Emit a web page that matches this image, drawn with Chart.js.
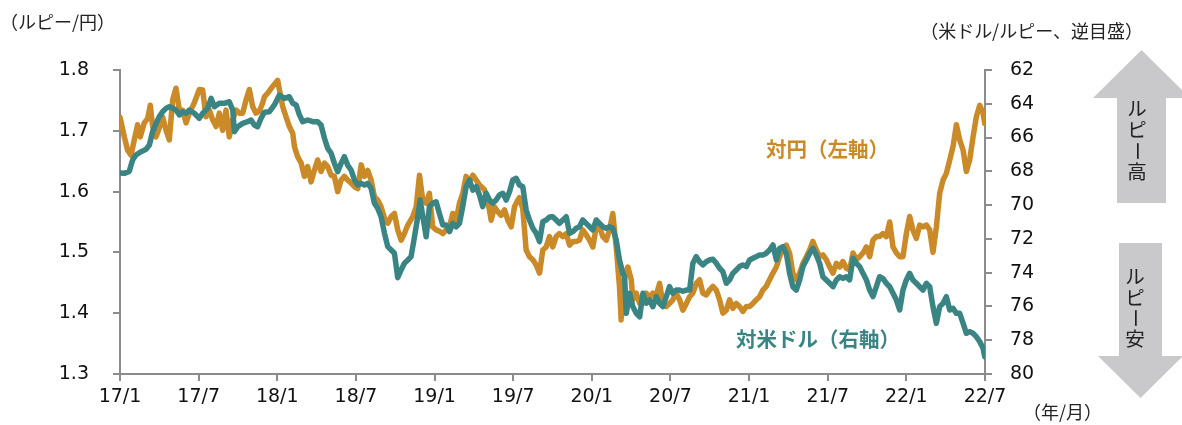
<!DOCTYPE html>
<html>
<head>
<meta charset="utf-8">
<script src="https://cdn.jsdelivr.net/npm/chart.js@4.4.1/dist/chart.umd.min.js"></script>
<style>
  html, body { margin: 0; padding: 0; background: #ffffff; }
  #wrap { width: 1182px; height: 425px; position: relative; }
</style>
</head>
<body>
<div id="wrap"><canvas id="c" width="1182" height="425"></canvas></div>
<script>
// ---- Data (months since 2017/1) ----
const tickLabels = ['17/1','17/7','18/1','18/7','19/1','19/7','20/1','20/7','21/1','21/7','22/1','22/7'];

const jpyMonths = [0,0.08,0.33,0.58,0.84,1.09,1.34,1.55,1.85,2.11,
2.31,2.49,2.75,3.0,3.25,3.51,3.76,4.02,4.27,4.53,
4.78,5.04,5.29,5.67,6.05,6.31,6.56,6.82,7.07,7.33,
7.58,7.83,8.09,8.34,8.6,8.85,9.11,9.36,9.62,9.87,
10.12,10.38,10.63,10.89,11.02,11.27,11.65,12.03,12.21,12.41,
12.67,12.92,13.18,13.31,13.56,13.82,14.07,14.32,14.58,14.83,
15.08,15.34,15.6,15.85,16.11,16.36,16.61,16.87,17.12,17.37,
17.63,17.89,18.14,18.4,18.65,18.9,19.16,19.41,19.66,19.92,
20.18,20.43,20.69,20.94,21.19,21.45,21.7,21.96,22.34,22.6,
22.85,23.1,23.36,23.61,23.86,24.12,24.37,24.63,24.89,25.14,
25.39,25.65,25.9,26.15,26.41,26.66,26.92,27.18,27.43,27.81,
28.06,28.32,28.57,28.82,29.08,29.34,29.59,29.85,30.1,30.35,
30.48,30.73,30.99,31.24,31.5,31.76,32.01,32.26,32.52,32.77,
33.02,33.28,33.53,33.79,34.05,34.3,34.56,34.81,35.06,35.31,
35.57,35.83,36.08,36.34,36.59,36.84,37.1,37.35,37.6,37.86,
38.11,38.24,38.5,38.75,39.01,39.13,39.39,39.65,39.9,40.15,
40.4,40.66,40.92,41.17,41.42,41.68,41.93,42.18,42.44,42.7,
42.95,43.21,43.46,43.71,43.97,44.22,44.47,44.73,44.98,45.24,
45.5,45.75,46.0,46.26,46.51,46.76,47.02,47.27,47.53,47.79,
48.04,48.29,48.55,48.8,49.05,49.31,49.56,49.82,50.08,50.33,
50.58,50.84,51.09,51.34,51.6,51.86,52.11,52.37,52.62,52.87,
53.13,53.38,53.63,53.89,54.15,54.4,54.66,54.91,55.16,55.42,
55.67,55.93,56.18,56.44,56.69,56.95,57.2,57.45,57.71,57.96,
58.21,58.47,58.73,58.98,59.24,59.49,59.74,60.0,60.25,60.5,
60.76,61.02,61.27,61.53,61.78,62.03,62.29,62.54,62.8,63.05,
63.31,63.56,63.82,64.07,64.33,64.58,64.83,65.09,65.34,65.6,
65.85,65.98];

// Rupee per yen (left axis)
const jpyRate = [1.722,1.715,1.690,1.668,1.660,1.685,1.710,1.690,1.713,1.720,
1.742,1.707,1.690,1.705,1.723,1.701,1.685,1.751,1.770,1.734,
1.734,1.713,1.729,1.746,1.768,1.767,1.723,1.734,1.718,1.707,
1.729,1.701,1.734,1.690,1.718,1.734,1.729,1.729,1.751,1.768,
1.740,1.729,1.732,1.746,1.756,1.762,1.773,1.783,1.762,1.740,
1.723,1.707,1.696,1.674,1.657,1.647,1.625,1.641,1.616,1.635,
1.652,1.633,1.647,1.641,1.627,1.625,1.600,1.619,1.625,1.619,
1.614,1.608,1.605,1.644,1.625,1.635,1.619,1.592,1.586,1.575,
1.556,1.548,1.559,1.564,1.537,1.520,1.531,1.545,1.559,1.575,
1.627,1.586,1.581,1.597,1.542,1.537,1.535,1.531,1.537,1.542,
1.564,1.553,1.581,1.597,1.625,1.616,1.627,1.619,1.611,1.603,
1.586,1.553,1.575,1.567,1.561,1.570,1.553,1.542,1.575,1.586,
1.590,1.572,1.504,1.493,1.488,1.479,1.466,1.504,1.509,1.526,
1.509,1.526,1.531,1.526,1.531,1.512,1.518,1.518,1.520,1.537,
1.529,1.520,1.509,1.542,1.542,1.526,1.520,1.537,1.564,1.509,
1.444,1.389,1.460,1.476,1.455,1.422,1.433,1.416,1.422,1.433,
1.425,1.433,1.430,1.449,1.416,1.411,1.416,1.422,1.433,1.422,
1.405,1.416,1.427,1.433,1.449,1.455,1.433,1.430,1.438,1.444,
1.438,1.422,1.400,1.405,1.422,1.408,1.416,1.411,1.403,1.411,
1.411,1.416,1.422,1.427,1.438,1.444,1.455,1.466,1.476,1.493,
1.504,1.512,1.499,1.466,1.455,1.466,1.482,1.493,1.504,1.518,
1.504,1.493,1.496,1.488,1.476,1.466,1.482,1.476,1.485,1.474,
1.471,1.499,1.488,1.493,1.499,1.509,1.493,1.520,1.526,1.526,
1.531,1.526,1.550,1.509,1.499,1.493,1.493,1.531,1.559,1.537,
1.523,1.545,1.542,1.545,1.537,1.500,1.542,1.597,1.619,1.630,
1.652,1.674,1.710,1.685,1.668,1.633,1.652,1.690,1.723,1.742,
1.729,1.712];

const usdMonths = [0,0.33,0.71,0.96,1.22,1.6,1.98,2.24,2.49,2.75,
3.0,3.25,3.51,3.76,4.02,4.27,4.53,4.78,5.04,5.29,
5.67,6.05,6.31,6.69,6.95,7.2,7.58,7.96,8.34,8.6,
8.73,8.98,9.36,9.74,10.0,10.25,10.5,10.76,11.02,11.4,
11.78,12.16,12.54,12.92,13.18,13.44,13.69,13.94,14.32,14.7,
15.08,15.34,15.6,15.85,16.11,16.36,16.61,16.87,17.12,17.37,
17.63,17.89,18.14,18.4,18.65,18.9,19.16,19.41,19.66,19.92,
20.18,20.43,20.69,20.94,21.19,21.45,21.7,21.96,22.21,22.47,
22.72,22.9,23.15,23.36,23.61,23.86,24.12,24.37,24.63,24.89,
25.14,25.39,25.65,25.9,26.15,26.41,26.66,26.92,27.18,27.43,
27.68,27.94,28.19,28.44,28.7,28.95,29.21,29.47,29.72,29.97,
30.23,30.48,30.73,30.99,31.24,31.5,31.76,32.01,32.26,32.52,
32.77,33.02,33.28,33.53,33.79,34.05,34.3,34.56,34.81,35.06,
35.31,35.57,35.83,36.08,36.34,36.59,36.84,37.1,37.35,37.6,
37.86,38.11,38.37,38.5,38.63,38.88,39.13,39.39,39.65,39.9,
40.15,40.4,40.66,40.92,41.17,41.42,41.68,41.93,42.18,42.44,
42.7,42.95,43.21,43.46,43.71,43.97,44.22,44.47,44.73,44.98,
45.24,45.5,45.75,46.0,46.26,46.51,46.76,47.02,47.27,47.53,
47.79,48.04,48.29,48.55,48.8,49.05,49.31,49.56,49.82,50.08,
50.33,50.58,50.84,51.09,51.34,51.6,51.86,52.11,52.37,52.62,
52.87,53.13,53.38,53.63,53.89,54.15,54.4,54.66,54.91,55.16,
55.42,55.67,55.93,56.18,56.44,56.69,56.95,57.2,57.45,57.71,
57.96,58.21,58.47,58.73,58.98,59.24,59.49,59.74,60.0,60.25,
60.5,60.76,61.02,61.27,61.53,61.78,62.03,62.29,62.54,62.8,
63.05,63.31,63.56,63.82,64.07,64.33,64.58,64.83,65.09,65.34,
65.6,65.85,65.98];

// USD/INR (right axis, inverted)
const usdRate = [68.10,68.12,68.00,67.33,67.03,66.84,66.70,66.44,65.65,65.16,
64.76,64.47,64.27,64.17,64.27,64.37,64.66,64.47,64.56,64.37,
64.56,64.86,64.56,64.27,63.68,64.17,63.97,63.97,63.88,64.37,
65.65,65.36,65.16,65.06,64.96,65.26,65.36,64.86,64.50,64.47,
64.07,63.48,63.68,63.58,63.97,64.07,64.66,65.06,64.96,65.06,
65.06,65.26,66.04,66.64,66.93,67.53,68.02,67.53,67.13,67.63,
67.92,68.51,68.81,68.71,68.81,68.71,69.00,69.89,70.19,70.69,
71.67,72.46,72.66,72.85,74.30,73.84,73.44,73.25,73.05,71.87,
70.69,69.70,70.88,71.87,70.09,69.89,69.80,70.49,71.18,71.18,
71.57,71.08,71.28,71.08,70.09,68.91,68.51,69.11,68.91,69.40,
70.09,69.30,69.70,69.89,69.70,69.40,69.30,69.70,69.21,68.51,
68.41,68.81,68.91,70.29,70.88,71.37,71.67,72.16,70.98,70.88,
70.70,70.69,70.88,71.08,70.88,70.69,71.67,71.57,71.37,71.28,
70.88,71.08,71.28,71.47,70.88,71.08,71.28,71.37,71.28,71.37,
72.07,73.25,74.04,74.24,76.41,75.22,76.01,76.41,76.61,75.22,
75.81,75.62,76.01,75.42,75.81,76.01,75.42,74.83,75.22,75.03,
75.03,75.10,75.03,75.03,73.44,73.05,73.35,73.54,73.35,73.25,
73.20,73.44,73.74,73.94,74.63,74.43,74.04,73.84,73.64,73.54,
73.64,73.25,73.15,73.05,72.95,72.95,72.85,72.66,72.36,73.25,
72.56,72.46,72.85,74.04,74.83,75.03,74.43,73.64,73.25,72.85,
72.56,72.95,73.44,74.24,74.43,74.63,74.83,74.43,74.24,74.34,
74.24,74.43,73.15,73.44,73.64,74.04,74.43,75.03,75.42,74.83,
74.24,74.34,74.63,74.83,75.22,75.62,76.21,75.03,74.43,74.04,
74.43,74.63,74.83,75.03,74.63,74.83,76.01,77.00,76.01,75.81,
75.42,76.21,76.11,76.41,76.41,77.00,77.59,77.49,77.59,77.79,
78.09,78.48,78.98];

// ---- Styling ----
const ORANGE = '#C98A27';
const TEAL = '#3B8484';
const AXIS = '#8c8c8c';
const TICKFONT = { family: '"DejaVu Sans", Verdana, sans-serif', size: 19 };
const JP = '"Noto Sans CJK JP", sans-serif';

const jpyPoints = jpyMonths.map((m, i) => ({ x: m, y: jpyRate[i] }));
const usdPoints = usdMonths.map((m, i) => ({ x: m, y: usdRate[i] }));

const annotations = {
  id: 'annotations',
  afterDraw(chart) {
    const c = chart.ctx;
    c.save();
    c.fillStyle = '#222';
    c.textBaseline = 'middle';
    c.font = '18px ' + JP;
    c.textAlign = 'left';
    c.fillText('（ルピー/円）', 0, 22);
    c.textAlign = 'right';
    c.fillText('（米ドル/ルピー、逆目盛）', 1143, 31);
    c.textAlign = 'left';
    c.fillText('（年/月）', 1023, 412);

    // series labels
    c.font = 'bold 20.5px ' + JP;
    c.fillStyle = ORANGE;
    c.fillText('対円（左軸）', 766, 149);
    c.fillStyle = TEAL;
    c.fillText('対米ドル（右軸）', 736, 339);

    // arrows
    c.fillStyle = '#c9c9cb';
    c.beginPath();
    c.moveTo(1141.5, 50);
    c.lineTo(1190, 98);
    c.lineTo(1166, 98);
    c.lineTo(1166, 203);
    c.lineTo(1117, 203);
    c.lineTo(1117, 98);
    c.lineTo(1093, 98);
    c.closePath();
    c.fill();

    c.beginPath();
    c.moveTo(1140.5, 398);
    c.lineTo(1183, 356);
    c.lineTo(1162, 356);
    c.lineTo(1162, 243);
    c.lineTo(1119, 243);
    c.lineTo(1119, 356);
    c.lineTo(1098, 356);
    c.closePath();
    c.fill();

    // vertical texts
    c.fillStyle = '#222';
    c.font = '19.5px ' + JP;
    c.textAlign = 'center';
    const vtext = (str, x, y0, pitch) => {
      [...str].forEach((ch, i) => {
        const y = y0 + i * pitch;
        if (ch === 'ー') {
          c.save();
          c.translate(x, y);
          c.rotate(Math.PI / 2);
          c.fillText(ch, 0, 0);
          c.restore();
        } else {
          c.fillText(ch, x, y);
        }
      });
    };
    vtext('ルピー高', 1137, 109, 21);
    vtext('ルピー安', 1135, 277, 20.5);
    c.restore();
  }
};

new Chart(document.getElementById('c'), {
  type: 'line',
  data: {
    datasets: [
      {
        label: '対米ドル（右軸）',
        data: usdPoints,
        yAxisID: 'y2',
        borderColor: TEAL,
        borderWidth: 5.5,
        pointRadius: 0,
        tension: 0,
        borderJoinStyle: 'round',
        borderCapStyle: 'round',
        order: 0
      },
      {
        label: '対円（左軸）',
        data: jpyPoints,
        yAxisID: 'y',
        borderColor: ORANGE,
        borderWidth: 5.5,
        pointRadius: 0,
        tension: 0,
        borderJoinStyle: 'round',
        borderCapStyle: 'round',
        order: 1
      }
    ]
  },
  options: {
    responsive: false,
    animation: false,
    events: [],
    layout: { padding: { top: 70, left: 0, right: 0, bottom: 0 } },
    plugins: { legend: { display: false }, tooltip: { enabled: false } },
    scales: {
      x: {
        type: 'linear',
        min: 0, max: 66,
        afterFit(s) { s.height = 51; },
        border: { color: AXIS, width: 2 },
        grid: { drawOnChartArea: false, drawTicks: true, tickLength: 7, color: AXIS, lineWidth: 2 },
        ticks: {
          stepSize: 6, autoSkip: false, maxRotation: 0, padding: 5,
          color: '#111', font: TICKFONT,
          callback: (v) => tickLabels[Math.round(v / 6)]
        }
      },
      y: {
        position: 'left',
        min: 1.3, max: 1.8,
        afterFit(s) { s.width = 120; },
        border: { color: AXIS, width: 2 },
        grid: { drawOnChartArea: false, drawTicks: true, tickLength: 7, color: AXIS, lineWidth: 2 },
        ticks: {
          stepSize: 0.1, padding: 24, color: '#111', font: TICKFONT,
          callback: (v) => Number(v).toFixed(1)
        }
      },
      y2: {
        position: 'right',
        reverse: true,
        min: 62, max: 80,
        afterFit(s) { s.width = 197; },
        border: { color: AXIS, width: 2 },
        grid: { drawOnChartArea: false, drawTicks: true, tickLength: 7, color: AXIS, lineWidth: 2 },
        ticks: { stepSize: 2, padding: 18, color: '#111', font: TICKFONT }
      }
    }
  },
  plugins: [annotations]
});
</script>
</body>
</html>
